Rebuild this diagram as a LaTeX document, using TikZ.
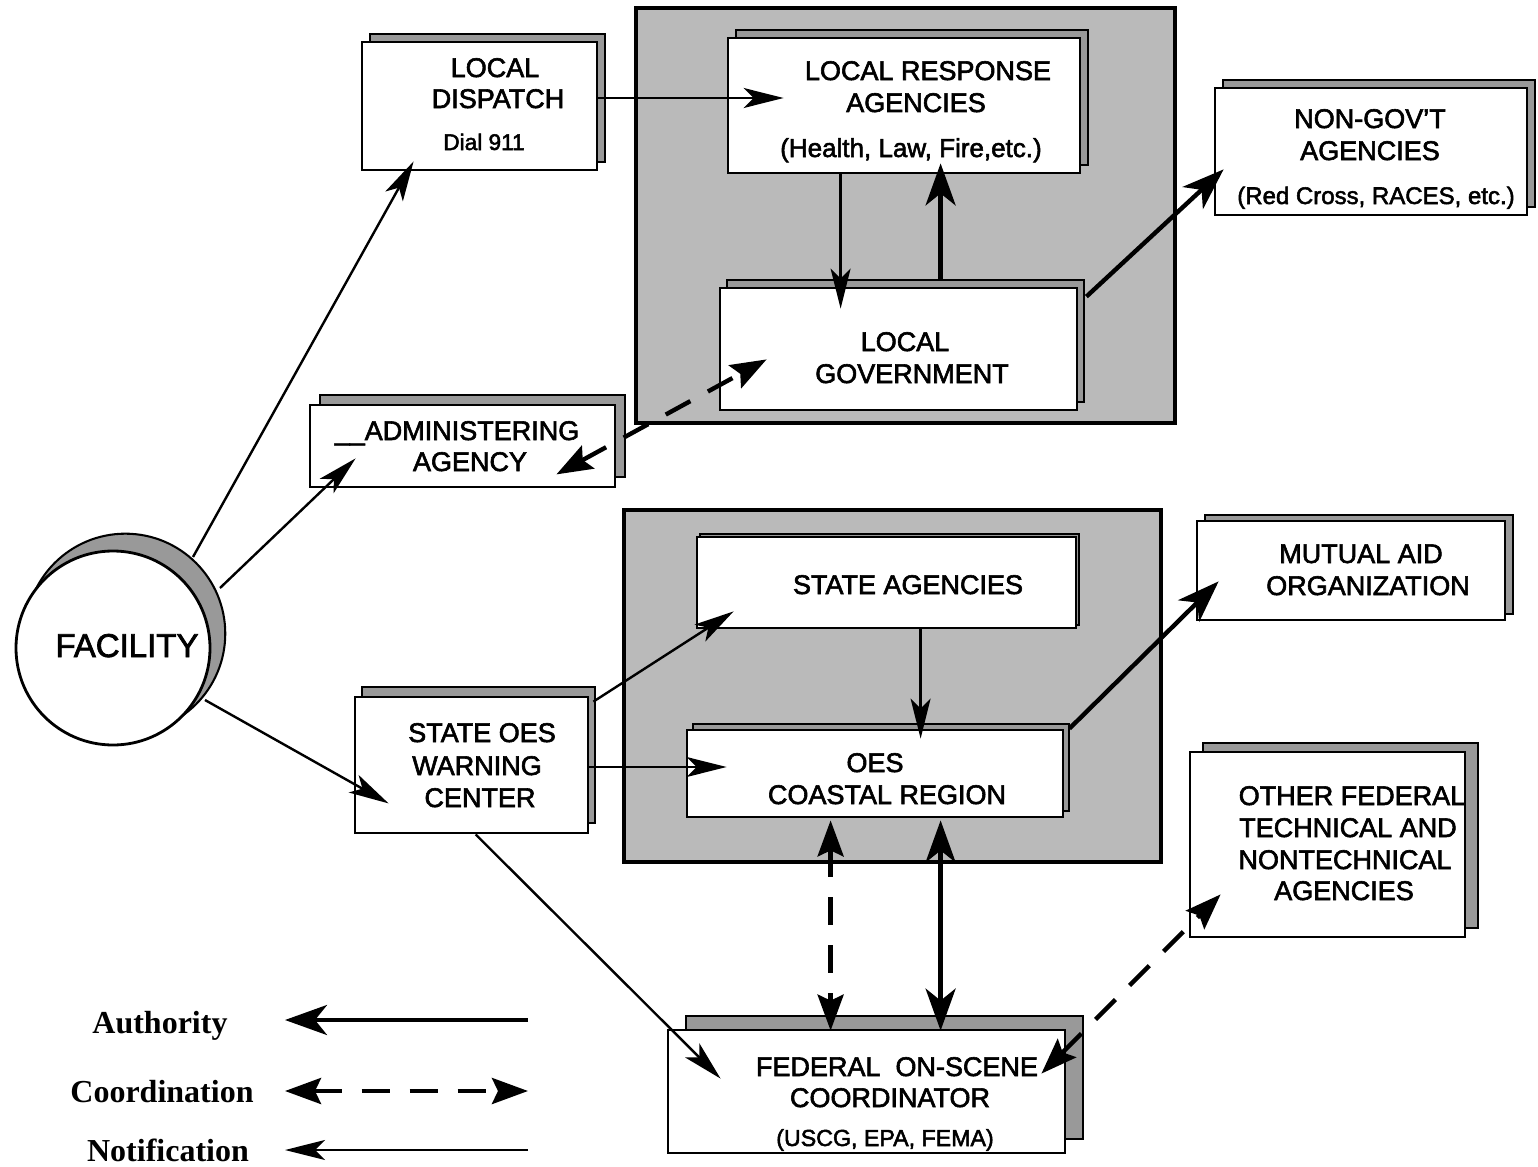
\documentclass[tikz,border=0pt]{standalone}
\usepackage{fontspec}
\setmainfont{Liberation Sans}[FakeBold=2.2]
\newfontfamily\legfont{Liberation Serif}
\usetikzlibrary{arrows.meta,shadows,fit,calc}
\begin{document}
\begin{tikzpicture}[x=0.5pt,y=-0.5pt,
  box/.style={draw=black, line width=1.4pt, fill=white, inner sep=0pt},
  panel/.style={draw=black, line width=2.4pt, fill=black!27, inner sep=0pt},
  shd/.style 2 args={general shadow={shadow xshift=#1pt, shadow yshift=#2pt, fill=black!40, draw=black, line width=0.8pt}},
  lbl/.style={font=\fontsize{13.5}{15}\selectfont, anchor=base, inner sep=0pt},
  sub/.style={font=\fontsize{12}{14}\selectfont, anchor=base, inner sep=0pt},
  leg/.style={font=\legfont\bfseries\fontsize{16}{18}\selectfont, anchor=base, inner sep=0pt},
  notif/.style={line width=1.2pt, -{Stealth[length=20pt,width=10pt,inset=5pt]}},
  auth/.style={line width=2.2pt, -{Stealth[length=21pt,width=15pt,inset=6pt]}},
  authboth/.style={line width=2.2pt, {Stealth[length=21pt,width=15pt,inset=6pt]}-{Stealth[length=21pt,width=15pt,inset=6pt]}},
  coord/.style={line width=2.2pt, dash pattern=on 14pt off 10pt, {Stealth[length=18pt,width=13pt,inset=3pt]}-{Stealth[length=18pt,width=13pt,inset=3pt]}},
]
\fill[white] (0,0) rectangle (1538,1167);
\useasboundingbox (0,0) rectangle (1538,1167);

% panels
\node[panel, fit={(636,8) (1175,423)}] (lpanel) {};
\node[panel, fit={(624,510) (1161,862)}] (spanel) {};

% facility
\node[circle, draw=black, line width=1.4pt, fill=white, minimum size=97pt, inner sep=0pt,
      general shadow={shadow xshift=6pt, shadow yshift=7pt, shadow scale=1.03, fill=black!40, draw=black, line width=1pt}] (fac) at (113,648) {};
\node[font=\fontsize{16.5}{18}\selectfont, anchor=base, inner sep=0pt] (fact) at (127,657) {FACILITY};

% boxes
\node[box, shd={4}{4}, fit={(362,42) (597,170)}] (ld) {};
\node[box, shd={4}{4}, fit={(728,38) (1080,173)}] (lra) {};
\node[box, shd={3.5}{4}, fit={(720,288) (1077,410)}] (lg) {};
\node[box, shd={4}{4}, fit={(1215,88) (1527,215)}] (ngo) {};
\node[box, shd={5}{5}, fit={(310,405) (615,487)}] (adm) {};
\node[box, shd={3.5}{5}, fit={(355,697) (588,833)}] (soes) {};
\node[box, shd={1.5}{1.5}, fit={(697,537) (1076,628)}] (sa) {};
\node[box, shd={3}{3}, fit={(687,730) (1063,817)}] (oes) {};
\node[box, shd={4}{3}, fit={(1197,521) (1505,620)}] (mut) {};
\node[box, shd={6.5}{4.5}, fit={(1190,752) (1465,937)}] (ofed) {};
\node[box, shd={9}{7}, fit={(668,1030) (1065,1153)}] (fosc) {};

% labels
\node[lbl] (ld1) at (495,77) {LOCAL};
\node[lbl] (ld2) at (498,108) {DISPATCH};
\node[font=\fontsize{11.3}{13}\selectfont, anchor=base, inner sep=0pt] (ld3) at (484,150) {Dial 911};

\node[lbl] (lra1) at (928,80) {LOCAL RESPONSE};
\node[lbl] (lra2) at (916,112) {AGENCIES};
\node[font=\fontsize{13}{15}\selectfont, anchor=base, inner sep=0pt] (lra3) at (911,157) {(Health, Law, Fire,etc.)};

\node[lbl] (ngo1) at (1370,128) {NON-GOV'T};
\node[lbl] (ngo2) at (1370,160) {AGENCIES};
\node[sub] (ngo3) at (1376,204) {(Red Cross, RACES, etc.)};

\node[lbl] (lg1) at (905,351) {LOCAL};
\node[lbl] (lg2) at (912,383) {GOVERNMENT};

\node[lbl] (adm1) at (457,440) {\_\_ADMINISTERING};
\node[lbl] (adm2) at (470,471) {AGENCY};

\node[lbl] (sa1) at (908,594) {STATE AGENCIES};

\node[lbl] (oes1) at (875,772) {OES};
\node[lbl] (oes2) at (887,804) {COASTAL REGION};

\node[lbl] (soes1) at (482,742) {STATE OES};
\node[lbl] (soes2) at (477,775) {WARNING};
\node[lbl] (soes3) at (480,807) {CENTER};

\node[lbl] (mut1) at (1361,563) {MUTUAL AID};
\node[lbl] (mut2) at (1368,595) {ORGANIZATION};

\node[lbl] (of1) at (1352,805) {OTHER FEDERAL};
\node[lbl] (of2) at (1348,837) {TECHNICAL AND};
\node[lbl] (of3) at (1345,869) {NONTECHNICAL};
\node[lbl] (of4) at (1344,900) {AGENCIES};

\node[lbl] (fo1) at (897,1076) {FEDERAL\ \ ON-SCENE};
\node[lbl] (fo2) at (890,1107) {COORDINATOR};
\node[font=\fontsize{11.6}{13}\selectfont, anchor=base, inner sep=0pt] (fo3) at (885,1146) {(USCG, EPA, FEMA)};

% connectors
\draw[notif] ([shift={(80,-91)}]fac.center) -- ([shift={(53,-10)}]ld.south west);
\draw[notif] ([shift={(107,-60)}]fac.center) -- ([shift={(47,-30)}]adm.south west);
\draw[notif] ([shift={(92,52)}]fac.center) -- ([shift={(35,-31)}]soes.south west);
\draw[notif] ([shift={(0,-8)}]ld.east) -- ([shift={(57,-7.5)}]lra.west);
\draw[notif] ([shift={(114,0)}]lra.south west) -- ([shift={(122,22)}]lg.north west);
\draw[auth] ([shift={(222,-8)}]lg.north west) -- ([shift={(214,-11)}]lra.south west);
\draw[auth] ([shift={(8,10)}]lg.north east) -- ([shift={(10,-47)}]ngo.south west);
\draw[coord] ([shift={(-60,-14)}]adm.south east) -- ([shift={(48,-52)}]lg.south west);
\draw[notif] ([shift={(4,6)}]soes.north east) -- ([shift={(38,-18)}]sa.south west);
\draw[notif] ([shift={(0,2)}]soes.east) -- ([shift={(41,-6.5)}]oes.west);
\draw[notif] ([shift={(225,0)}]sa.south west) -- ([shift={(235,10)}]oes.north west);
\draw[auth] ([shift={(5,0)}]oes.north east) -- ([shift={(23,-40)}]mut.south west);
\draw[coord] ([shift={(145,2)}]oes.south west) -- ([shift={(164,2)}]fosc.north west);
\draw[authboth] ([shift={(255,2)}]oes.south west) -- ([shift={(274,2)}]fosc.north west);
\draw[notif] ([shift={(122,0)}]soes.south west) -- ([shift={(54,50)}]fosc.north west);
\draw[coord] ([shift={(-25,45)}]fosc.north east) -- ([shift={(32,-44)}]ofed.south west);

% legend
\node[leg] (legA) at (160,1033) {Authority};
\node[leg] (legC) at (162,1102) {Coordination};
\node[leg] (legN) at (168,1161) {Notification};
\coordinate (la1) at (528,1020);
\coordinate (la2) at (285,1020);
\coordinate (lc1) at (285,1091);
\coordinate (lc2) at (528,1091);
\coordinate (ln1) at (528,1150);
\coordinate (ln2) at (285,1150);
\draw[auth] (la1) -- (la2);
\draw[coord] (lc1) -- (lc2);
\draw[notif] (ln1) -- (ln2);
\end{tikzpicture}
\end{document}
